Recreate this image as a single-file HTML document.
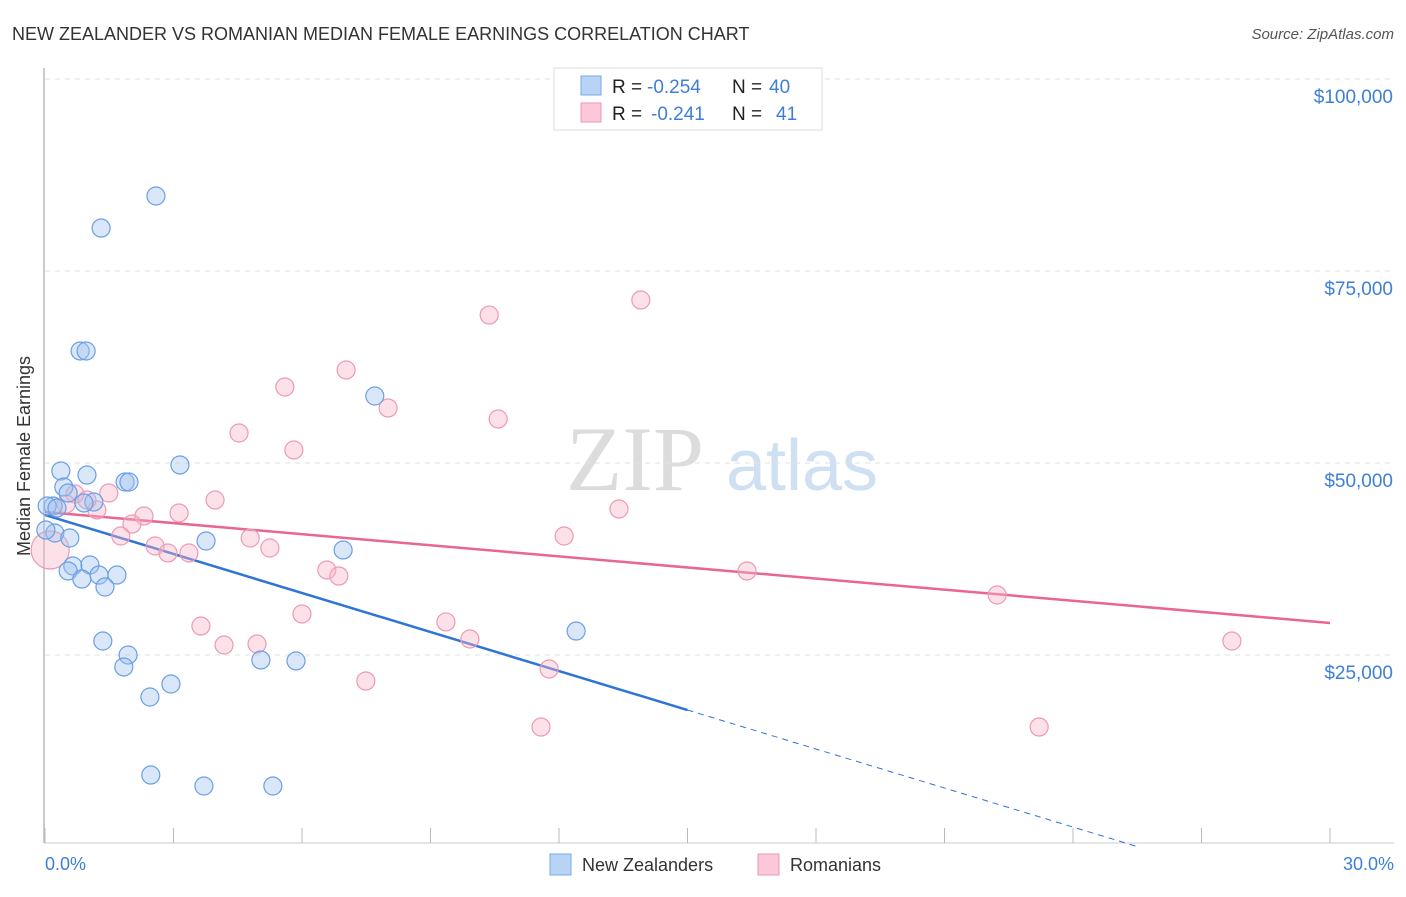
<!DOCTYPE html>
<html><head><meta charset="utf-8">
<style>
body{margin:0;background:#fff;font-family:"Liberation Sans",sans-serif;}
svg text{font-family:"Liberation Sans",sans-serif;}
</style></head>
<body>
<svg id="chart" width="1406" height="892" viewBox="0 0 1406 892" xmlns="http://www.w3.org/2000/svg">
<text x="12" y="40" font-size="18" fill="#333">NEW ZEALANDER VS ROMANIAN MEDIAN FEMALE EARNINGS CORRELATION CHART</text>
<text x="1394" y="39" font-size="15" fill="#555" font-style="italic" text-anchor="end">Source: ZipAtlas.com</text>
<g>
<text x="635" y="490" font-size="92" fill="#dcdcdc" style="font-family:'Liberation Serif',serif" text-anchor="middle">ZIP</text>
<text x="802" y="490" font-size="72" fill="#cfe0f3" text-anchor="middle">atlas</text>
</g>
<g id="grid"></g>
<g id="axes"></g>
<g id="lines"></g>
<g id="pts"></g>
<text x="30" y="456" font-size="18" fill="#333" text-anchor="middle" transform="rotate(-90 30 456)">Median Female Earnings</text>
<text x="45" y="870" font-size="18" fill="#3d7fd8">0.0%</text>
<text x="1394" y="870" font-size="18" fill="#3d7fd8" text-anchor="end">30.0%</text>
<g>
<rect x="554" y="68" width="268" height="62" fill="#fff" stroke="#ddd"/>
<rect x="581" y="76" width="20" height="19" fill="#b9d3f5" stroke="#7aa8e8"/>
<rect x="581" y="103" width="20" height="19" fill="#fcc8d8" stroke="#ee96b2"/>
<text x="612" y="93" font-size="19" fill="#222">R = </text><text x="647" y="93" font-size="19" fill="#3d7fd8">-0.254</text>
<text x="732" y="93" font-size="19" fill="#222">N = </text><text x="769" y="93" font-size="19" fill="#3d7fd8">40</text>
<text x="612" y="120" font-size="19" fill="#222">R = </text><text x="651" y="120" font-size="19" fill="#3d7fd8">-0.241</text>
<text x="732" y="120" font-size="19" fill="#222">N = </text><text x="776" y="120" font-size="19" fill="#3d7fd8">41</text>
</g>
<g>
<rect x="550" y="854" width="21" height="21" fill="#b9d3f5" stroke="#7aa8e8"/>
<text x="582" y="871" font-size="18" fill="#333">New Zealanders</text>
<rect x="758" y="854" width="21" height="21" fill="#fcc8d8" stroke="#ee96b2"/>
<text x="790" y="871" font-size="18" fill="#333">Romanians</text>
</g>
</svg>
<script>
const yTicks=[25000,50000,75000,100000];
const yTickLabels=["$25,000","$50,000","$75,000","$100,000"];
const nzX=[2.59,1.31,0.82,0.96,7.70,3.15,0.37,0.98,1.87,1.96,0.44,0.54,1.14,0.19,0.05,0.28,0.23,0.58,3.76,6.96,0.65,1.05,0.54,1.26,1.68,0.86,1.40,1.35,1.94,1.84,5.04,5.86,12.40,2.94,2.45,2.47,3.71,5.32,0.02,0.91];
const nzY=[84760,80590,64580,64580,58720,49740,48960,48430,47520,47520,46870,46090,44920,44400,44400,44140,40880,40230,39840,38670,36590,36720,35940,35410,35410,34890,33850,26820,25000,23440,24350,24220,28120,21220,19530,9370,7940,7940,41270,44790];
const roX=[13.91,10.37,7.03,5.60,8.01,10.58,4.53,5.81,1.49,3.97,0.70,0.49,1.21,13.40,2.31,3.13,2.03,1.77,4.79,12.12,2.57,2.87,3.36,5.25,0.12,6.58,6.86,16.39,6.00,9.36,3.64,22.23,4.18,4.95,9.92,27.71,11.77,7.49,11.58,23.21,0.98];
const roY=[71220,69260,62110,59890,57160,55730,53900,51690,46090,45180,45960,44660,43880,44010,43100,43490,42050,40490,40230,40490,39190,38280,38280,38930,38670,36070,35280,35940,30340,29300,28770,32810,26300,26430,27080,26820,23180,21610,15620,15620,45180];
const nzTrend=[43230,-1693];
const roTrend=[43620,-481.7];
const NS="http://www.w3.org/2000/svg";
const xs=v=>45+v/30*1285;
const ys=v=>847-v/130.2;
function mk(tag,attrs,parent){const e=document.createElementNS(NS,tag);for(const k in attrs)e.setAttribute(k,attrs[k]);document.getElementById(parent).appendChild(e);return e;}
yTicks.forEach((t,i)=>{
 const g=mk('line',{x1:45,x2:1394,y1:ys(t),y2:ys(t),stroke:'#e2e2e2','stroke-dasharray':'5,5'},'grid');
 
 
 const tx=mk('text',{x:1393,y:ys(t)+24,'font-size':19,fill:'#3d7fd8','text-anchor':'end'},'grid');
 tx.textContent=yTickLabels[i];
 
 
});
const topGrid=mk('line',{x1:45,x2:1394,y1:79,y2:79,stroke:'#e2e2e2','stroke-dasharray':'5,5'},'grid');


const yAxisLine=mk('line',{x1:44,x2:44,y1:68,y2:843,stroke:'#bbb','stroke-width':1.5},'axes');


const xAxisLine=mk('line',{x1:44,x2:1394,y1:843,y2:843,stroke:'#ccc'},'axes');


for(let i=0;i<=10;i++){
 const t=mk('line',{x1:xs(i*3),x2:xs(i*3),y1:828,y2:843,stroke:'#bbb'},'axes');
 
 
}
const xEndSolid=15.0;
const l1=mk('line',{x1:xs(0),y1:ys(nzTrend[0]),x2:xs(xEndSolid),y2:ys(nzTrend[0]+nzTrend[1]*xEndSolid),stroke:'#2f74d6','stroke-width':2.5},'lines');


const xz=-nzTrend[0]/nzTrend[1];
const l2=mk('line',{x1:xs(xEndSolid),y1:ys(nzTrend[0]+nzTrend[1]*xEndSolid),x2:xs(xz),y2:ys(0),stroke:'#2f74d6','stroke-width':1,'stroke-dasharray':'6,5'},'lines');


const l3=mk('line',{x1:xs(0),y1:ys(roTrend[0]),x2:xs(30),y2:ys(roTrend[0]+roTrend[1]*30),stroke:'#e8668f','stroke-width':2.5},'lines');


roX.forEach((x,i)=>{
 const c=mk('circle',{cx:xs(x),cy:ys(roY[i]),r:i===24?19:9,fill:'rgba(250,180,200,0.4)',stroke:'#ec9ab4','stroke-width':1.2},'pts');
 
 
});
nzX.forEach((x,i)=>{
 const c=mk('circle',{cx:xs(x),cy:ys(nzY[i]),r:9,fill:'rgba(160,195,240,0.4)',stroke:'#6a9fe4','stroke-width':1.2},'pts');
 
 
});
</script>
</body></html>
